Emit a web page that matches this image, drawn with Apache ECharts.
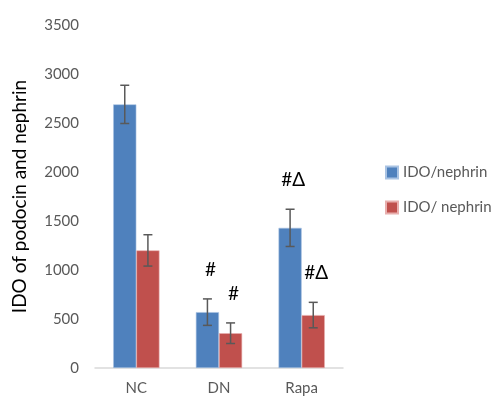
<!DOCTYPE html>
<html>
<head>
<meta charset="utf-8">
<script src="https://cdn.jsdelivr.net/npm/echarts@6/dist/echarts.min.js"></script>
<style>html,body{margin:0;padding:0;background:#fff;}#chart{width:491px;height:396px;}</style>
</head>
<body>
<div id="chart"></div>
<script>
var categories = ['NC', 'DN', 'Rapa'];
var seriesNames = ['IDO/nephrin', 'IDO/ nephrin'];
var blueValues = [2690, 570, 1430];
var blueErrors = [195, 135, 190];
var redValues = [1200, 355, 540];
var redErrors = [160, 105, 130];
var blueMarks = ['', '#', '#\u0394'];
var redMarks = ['', '#', '#\u0394'];
var yTicks = { min: 0, max: 3500, interval: 500 };

var FONT = 'Lato, "Open Sans", sans-serif';
var CAT_GAP = 0.44;

function errorSeries(values, errors, marks, side) {
  return {
    type: 'custom',
    z: 10,
    silent: true,
    data: values.map(function (v, i) { return [i, v - errors[i], v + errors[i], marks[i]]; }),
    encode: { x: 0, y: [1, 2] },
    renderItem: function (params, api) {
      var idx = api.value(0);
      var lowP = api.coord([idx, api.value(1)]);
      var highP = api.coord([idx, api.value(2)]);
      var band = api.size([1, 0])[0];
      var bw = band * (1 - CAT_GAP) / 2;
      var x = lowP[0] + side * bw / 2;
      var cap = 4.5;
      var st = { stroke: '#595959', lineWidth: 1.5 };
      var children = [
        { type: 'line', shape: { x1: x, y1: highP[1], x2: x, y2: lowP[1] }, style: st },
        { type: 'line', shape: { x1: x - cap, y1: highP[1], x2: x + cap, y2: highP[1] }, style: st },
        { type: 'line', shape: { x1: x - cap, y1: lowP[1], x2: x + cap, y2: lowP[1] }, style: st }
      ];
      var txt = marks[idx];
      if (txt) {
        children.push({
          type: 'text',
          style: {
            text: txt, x: x + 3, y: highP[1] - 29,
            align: 'center', verticalAlign: 'middle',
            fill: '#000', font: '19px ' + FONT
          }
        });
      }
      return { type: 'group', children: children };
    }
  };
}

var chart = echarts.init(document.getElementById('chart'));
chart.setOption({
  animation: false,
  textStyle: { fontFamily: FONT },
  grid: { left: 95, right: 148, top: 25, bottom: 25 },
  legend: {
    orient: 'vertical',
    left: 380,
    top: 160,
    itemWidth: 12,
    itemHeight: 12,
    itemGap: 20,
    icon: 'rect',
    textStyle: { fontSize: 15, color: '#595959', fontFamily: FONT },
    data: seriesNames
  },
  xAxis: {
    type: 'category',
    data: categories,
    axisLine: { lineStyle: { color: '#D9D9D9', width: 1.5 } },
    axisTick: { show: false },
    axisLabel: { fontSize: 15, color: '#595959', margin: 13 }
  },
  yAxis: {
    type: 'value',
    min: yTicks.min,
    max: yTicks.max,
    interval: yTicks.interval,
    name: 'IDO of podocin and nephrin',
    nameLocation: 'middle',
    nameGap: 66,
    nameTextStyle: { fontSize: 19, color: '#000' },
    axisLine: { show: false },
    axisTick: { show: false },
    splitLine: { show: false },
    axisLabel: { fontSize: 15, color: '#595959', margin: 16, formatter: function (v) { return String(v); } }
  },
  series: [
    {
      name: seriesNames[0], type: 'bar', data: blueValues,
      barGap: '0%', barCategoryGap: (CAT_GAP * 100) + '%',
      itemStyle: { color: '#4F81BD', borderColor: '#A9C3E3', borderWidth: 0.6 }
    },
    {
      name: seriesNames[1], type: 'bar', data: redValues,
      barGap: '0%', barCategoryGap: (CAT_GAP * 100) + '%',
      itemStyle: { color: '#C0504D', borderColor: '#E8AFAE', borderWidth: 0.6 }
    },
    errorSeries(blueValues, blueErrors, blueMarks, -1),
    errorSeries(redValues, redErrors, redMarks, 1)
  ]
});
</script>
</body>
</html>
